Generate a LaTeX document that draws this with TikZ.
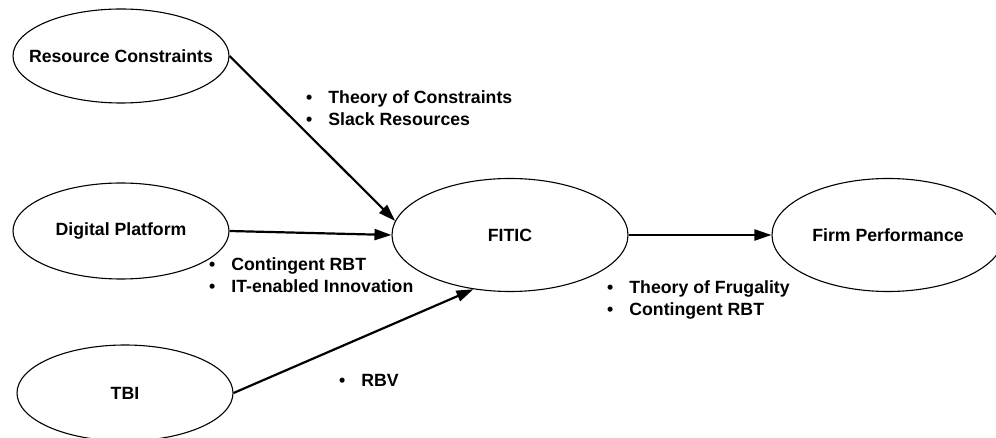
\documentclass[tikz,border=0pt]{standalone}
\usepackage{fontspec}
\setmainfont{Liberation Sans}
\usetikzlibrary{shapes.geometric,arrows.meta}
\begin{document}
\begin{tikzpicture}[x=1pt,y=-1pt,
  oval/.style={ellipse, draw, line width=1.1pt, inner sep=0pt, font=\fontsize{17.7}{21.2}\selectfont\bfseries},
  conn/.style={line width=2.2pt, -{Triangle[length=17pt,width=11pt]}},
  lbl/.style={anchor=base west, inner sep=0pt, font=\fontsize{17.7}{21.2}\selectfont\bfseries}]
\useasboundingbox (0,0) rectangle (996,438);
\node[oval, minimum width=216pt, minimum height=94pt] (rc) at (121,56) {\makebox[0pt]{Resource Constraints}};
\node[oval, minimum width=216pt, minimum height=96pt] (dp) at (121,231) {\makebox[0pt]{Digital Platform}};
\node[oval, minimum width=216pt, minimum height=96pt] (tbi) at (125,393) {\makebox[0pt]{TBI}};
\node[oval, minimum width=236pt, minimum height=113pt] (fitic) at (510,235) {\makebox[0pt]{FITIC}};
\node[oval, minimum width=232pt, minimum height=113pt] (fp) at (888,235) {\makebox[0pt]{Firm Performance}};
\draw[conn] (rc.east) -- (fitic.173);
\draw[conn] (dp.east) -- (fitic.west);
\draw[conn] (tbi.east) -- (fitic.236);
\draw[conn] (fitic.east) -- (fp.west);
\node[lbl] (l1) at (306,104) {\begin{tabular}[t]{@{}l@{\hspace{16pt}}l@{}}•&Theory of Constraints\\•&Slack Resources\end{tabular}};
\node[lbl] (l2) at (209,271) {\begin{tabular}[t]{@{}l@{\hspace{16pt}}l@{}}•&Contingent RBT\\•&IT-enabled Innovation\end{tabular}};
\node[lbl] (l3) at (607,294) {\begin{tabular}[t]{@{}l@{\hspace{16pt}}l@{}}•&Theory of Frugality\\•&Contingent RBT\end{tabular}};
\node[lbl] (l4) at (339,386) {\begin{tabular}[t]{@{}l@{\hspace{16pt}}l@{}}•&RBV\end{tabular}};
\end{tikzpicture}
\end{document}
